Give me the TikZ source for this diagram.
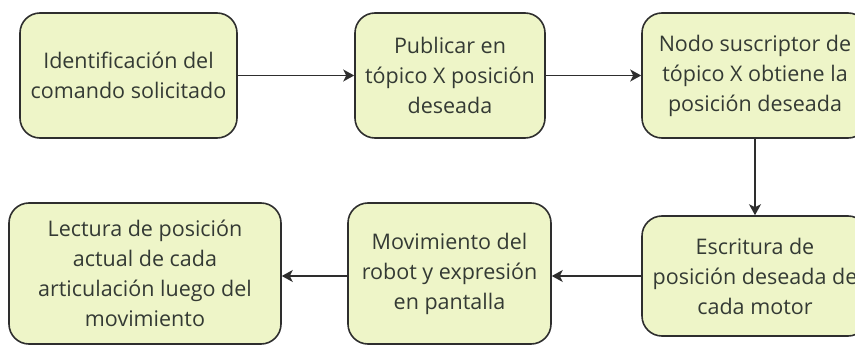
\documentclass[tikz,border=0pt]{standalone}
\usepackage{fontspec}
\setmainfont{Open Sans}
\usetikzlibrary{arrows.meta}
\definecolor{boxfill}{HTML}{EEF5C8}
\definecolor{boxline}{HTML}{2E2E2E}
\definecolor{txt}{HTML}{343A34}
\begin{document}
\begin{tikzpicture}[x=1pt,y=-1pt,
  paso/.style={draw=boxline,line width=1.6pt,fill=boxfill,rounded corners=20pt,
    inner sep=0pt,align=center,text=txt,font=\fontsize{21.5}{30}\selectfont},
  flecha/.style={draw=boxline,line width=1.6pt,-{Stealth[length=11pt,width=12pt,inset=3pt]}}]
\useasboundingbox (0,0) rectangle (855,345);
\clip (0,0) rectangle (855,345);
% fila de arriba
\node[paso,minimum width=217pt,minimum height=125pt] (ident) at (128.5,75.5) {Identificación del\\comando solicitado};
\node[paso,minimum width=190pt,minimum height=125pt] (publicar) at (450,75.5) {Publicar en\\tópico X posición\\deseada};
\node[paso,minimum width=226pt,minimum height=125pt] (nodo) at (755,75.5) {Nodo suscriptor de\\tópico X obtiene la\\posición deseada};
% fila de abajo
\node[paso,minimum width=226pt,minimum height=120pt] (escritura) at (755,276) {Escritura de\\posición deseada de\\cada motor};
\node[paso,minimum width=203pt,minimum height=141pt] (movim) at (449.5,273.5) {Movimiento del\\robot y expresión\\en pantalla};
\node[paso,minimum width=272pt,minimum height=141pt] (lectura) at (145,273.5) {Lectura de posición\\actual de cada\\articulación luego del\\movimiento};
% flechas
\draw[flecha] (ident) -- (publicar);
\draw[flecha] (publicar) -- (nodo);
\draw[flecha] (nodo) -- (escritura);
\draw[flecha] (escritura.west) -- (escritura.west -| movim.east);
\draw[flecha] (movim.west |- escritura.west) -- (escritura.west -| lectura.east);
\end{tikzpicture}
\end{document}
